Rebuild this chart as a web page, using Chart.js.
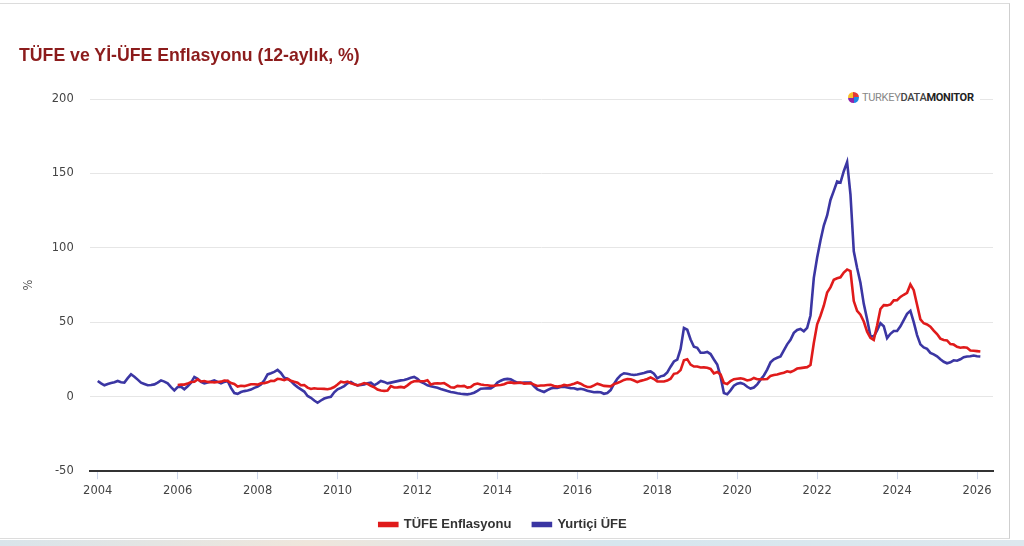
<!DOCTYPE html>
<html lang="tr">
<head>
<meta charset="utf-8">
<title>TÜFE ve Yİ-ÜFE Enflasyonu</title>
<script src="https://cdn.jsdelivr.net/npm/chart.js@4.4.1/dist/chart.umd.min.js"></script>
<style>
  html, body { margin: 0; padding: 0; background: #fff; }
  body { width: 1024px; height: 546px; position: relative; overflow: hidden; }
  #frame {
    position: absolute; left: 0; top: 3px; width: 1009px; height: 534px;
    border-top: 1px solid #dcdcdc; border-right: 1px solid #cfcfcf; border-bottom: 1px solid #dcdcdc;
  }
  #band {
    position: absolute; left: 0; top: 540px; width: 1024px; height: 6px;
    background: linear-gradient(to right, #d9e4ea, #efe6dc 30%, #d6e6ee 60%, #dde8ee);
  }
  #title {
    position: absolute; left: 19px; top: 45px; margin: 0;
    font: bold 17.7px "Liberation Sans", Arial, sans-serif; color: #8c1c1c;
  }
  #wrap { position: absolute; left: 0; top: 0; width: 1010px; height: 550px; }
  #brand {
    position: absolute; left: 842px; top: 89px; padding: 0 6px; background: #fff;
    font: 11px Roboto, sans-serif; color: #888; letter-spacing: -0.3px;
    display: flex; align-items: center; height: 16px;
  }
  #brand .dot {
    width: 11px; height: 11px; border-radius: 50%; margin-right: 3px;
    background: conic-gradient(#e53935 0 25%, #1e88e5 0 50%, #8e24aa 0 75%, #fbc02d 0);
  }
  #brand b { font-weight: 700; color: #222; }
  #brand span.m { font-weight: 500; color: #444; }
</style>
</head>
<body>
<div id="frame"></div>
<div id="band"></div>
<div id="wrap"><canvas id="chartEnf"></canvas></div>
<h1 id="title">TÜFE ve Yİ-ÜFE Enflasyonu (12-aylık, %)</h1>
<div id="brand"><div class="dot"></div>TURKEY<span class="m">DATA</span><b>MONITOR</b></div>
<script>
// aylık veriler, 12 aylık % değişim
const tufeStart = 2006; // Ocak 2006'dan itibaren
const tufeData = [
  7.93, 8.15, 8.16, 8.83, 9.86, 10.12, 11.69, 10.26, 10.55, 9.98, 9.86, 9.65,
  9.93, 10.16, 10.86, 10.72, 9.23, 8.60, 6.90, 7.39, 7.12, 7.70, 8.40, 8.39,
  8.17, 9.10, 9.15, 9.66, 10.74, 10.61, 12.06, 11.77, 11.13, 11.99, 10.76, 10.06,
  9.50, 7.73, 7.89, 6.13, 5.24, 5.73, 5.39, 5.33, 5.27, 5.08, 5.53, 6.53,
  8.19, 10.13, 9.56, 10.19, 9.10, 8.37, 7.58, 8.33, 9.24, 8.62, 7.29, 6.40,
  4.90, 4.16, 3.99, 4.26, 7.17, 6.24, 6.31, 6.65, 6.15, 7.66, 9.48, 10.45,
  10.61, 10.43, 10.43, 11.14, 8.28, 8.87, 9.07, 8.88, 9.19, 7.80, 6.37, 6.16,
  7.31, 7.03, 7.29, 6.13, 6.51, 8.30, 8.88, 8.17, 7.88, 7.71, 7.32, 7.40,
  7.75, 7.89, 8.39, 9.38, 9.66, 9.16, 9.32, 9.54, 8.86, 8.96, 9.15, 8.17,
  7.24, 7.55, 7.61, 7.91, 8.09, 7.20, 6.81, 7.14, 7.95, 7.58, 8.10, 8.81,
  9.58, 8.78, 7.46, 6.57, 6.58, 7.64, 8.79, 8.05, 7.28, 7.16, 7.00, 8.53,
  9.22, 10.13, 11.29, 11.87, 11.72, 10.90, 9.79, 10.68, 11.20, 11.90, 12.98, 11.92,
  10.35, 10.26, 10.23, 10.85, 12.15, 15.39, 15.85, 17.90, 24.52, 25.24, 21.62, 20.30,
  20.35, 19.67, 19.71, 19.50, 18.71, 15.72, 16.65, 15.01, 9.26, 8.55, 10.56, 11.84,
  12.15, 12.37, 11.86, 10.94, 11.39, 12.62, 11.76, 11.77, 11.75, 11.89, 14.03, 14.60,
  14.97, 15.61, 16.19, 17.14, 16.59, 17.53, 18.95, 19.25, 19.58, 19.89, 21.31, 36.08,
  48.69, 54.44, 61.14, 69.97, 73.50, 78.62, 79.60, 80.21, 83.45, 85.51, 84.39, 64.27,
  57.68, 55.18, 50.51, 43.68, 39.59, 38.21, 47.83, 58.94, 61.53, 61.36, 61.98, 64.77,
  64.86, 67.07, 68.50, 69.80, 75.45, 71.60, 61.78, 51.97, 49.38, 48.58, 47.09, 44.38,
  42.12, 39.05, 38.10, 37.86, 35.41, 35.05, 33.52, 32.95, 33.29, 32.87, 31.07, 30.89,
  30.65, 30.40
];

const ufeStart = 2004; // Ocak 2004'ten itibaren
const ufeData = [
  10.6, 9.0, 7.7, 8.6, 9.3, 9.8, 10.6, 9.8, 9.5, 12.5, 15.1, 13.5,
  11.5, 9.5, 8.6, 7.7, 7.9, 8.3, 9.5, 11.0, 10.2, 9.0, 6.5, 4.3,
  6.5, 6.8, 5.0, 7.0, 9.5, 13.3, 12.0, 10.0, 9.0, 9.5, 10.2, 11.0,
  10.0, 9.0, 10.0, 10.6, 6.0, 2.5, 2.0, 3.2, 3.8, 4.2, 4.8, 6.0,
  6.8, 8.3, 11.0, 15.0, 15.8, 16.7, 18.0, 16.0, 12.8, 12.2, 10.5, 8.3,
  6.5, 5.0, 3.5, 0.5, -0.7, -2.5, -4.0, -2.5, -1.2, -0.5, 0.0, 3.0,
  5.0, 6.0, 7.2, 9.0, 10.0, 8.5, 7.7, 8.0, 8.3, 9.0, 9.5, 7.7,
  9.0, 10.6, 10.0, 9.0, 9.5, 10.0, 10.5, 11.0, 11.3, 12.0, 12.8, 13.3,
  12.0, 10.0, 9.0, 7.7, 7.0, 6.5, 6.0, 5.2, 4.5, 3.8, 3.2, 2.8,
  2.3, 2.0, 1.8, 1.6, 2.0, 2.7, 4.0, 5.4, 5.5, 5.6, 5.6, 7.0,
  9.5, 10.8, 11.7, 12.0, 11.7, 10.5, 9.5, 9.3, 9.6, 9.5, 9.5, 7.0,
  5.0, 4.0, 3.2, 4.5, 5.5, 6.0, 6.0, 6.5, 6.8, 6.2, 5.8, 5.7,
  5.0, 5.4, 4.8, 4.0, 3.5, 3.0, 3.2, 3.0, 2.0, 2.5, 4.5, 8.6,
  12.0, 14.5, 15.8, 15.5, 15.0, 14.6, 15.0, 15.5, 16.0, 16.7, 17.0, 15.5,
  12.4, 13.7, 14.3, 16.4, 20.2, 23.7, 25.0, 32.1, 46.2, 45.0, 38.5, 33.6,
  32.9, 29.6, 29.6, 30.1, 28.7, 25.0, 21.7, 13.5, 2.5, 1.7, 4.3, 7.4,
  8.8, 9.3, 8.5, 6.7, 5.5, 6.2, 8.3, 11.5, 14.3, 18.2, 23.1, 25.2,
  26.2, 27.1, 31.2, 35.2, 38.3, 42.9, 44.9, 45.5, 44.0, 46.3, 54.6, 79.9,
  93.5, 105.0, 115.0, 121.8, 132.2, 138.3, 144.6, 143.8, 151.5, 157.7, 136.0, 97.7,
  86.5, 76.6, 62.4, 52.1, 40.8, 40.4, 44.5, 49.4, 47.4, 39.4, 42.3, 44.2,
  44.2, 47.3, 51.5, 55.7, 57.7, 50.1, 41.4, 35.2, 33.1, 32.2, 29.5, 28.5,
  27.2, 25.2, 23.5, 22.5, 23.1, 24.5, 24.2, 25.2, 26.6, 27.0, 27.2, 27.7,
  27.2, 27.0
];

const yearTicks = [2004, 2006, 2008, 2010, 2012, 2014, 2016, 2018, 2020, 2022, 2024, 2026];
const yTicks = [-50, 0, 50, 100, 150, 200];

// ay sırasını yıl cinsinden x değerine çevir
const toPoints = (start, arr) => arr.map((v, i) => ({ x: start + i / 12, y: v }));

document.addEventListener("DOMContentLoaded", () => {
  const ctx = document.getElementById("chartEnf");
  new Chart(ctx, {
    type: "line",
    data: {
      datasets: [
        {
          label: "TÜFE Enflasyonu",
          data: toPoints(tufeStart, tufeData),
          borderColor: "#e01b1b",
          backgroundColor: "#e01b1b",
          borderWidth: 2.6,
        },
        {
          label: "Yurtiçi ÜFE",
          data: toPoints(ufeStart, ufeData),
          borderColor: "#3b36a3",
          backgroundColor: "#3b36a3",
          borderWidth: 2.6,
        },
      ],
    },
    options: {
      responsive: true,
      maintainAspectRatio: false,
      animation: false,
      elements: { point: { radius: 0, hoverRadius: 0 }, line: { tension: 0 } },
      layout: { padding: { left: 13, right: 17, top: 99, bottom: 9 } },
      plugins: {
        tooltip: { enabled: false },
        legend: {
          position: "bottom",
          labels: {
            boxWidth: 18,
            boxHeight: 3,
            padding: 15,
            color: "#333",
            font: { family: "Liberation Sans", size: 13, weight: "bold" },
            // öğeler arası boşluk biraz daha geniş olsun
            generateLabels: (chart) => {
              const items = Chart.defaults.plugins.legend.labels.generateLabels(chart);
              items[0].text += "\u2002";
              return items;
            },
          },
        },
      },
      scales: {
        x: {
          type: "linear",
          min: 2003.8,
          max: 2026.4,
          afterBuildTicks: (axis) => { axis.ticks = yearTicks.map((v) => ({ value: v })); },
          grid: { drawOnChartArea: false, drawTicks: true, tickLength: 8, color: "#ccd6eb" },
          border: { display: true, color: "#333", width: 2 },
          ticks: {
            autoSkip: false,
            maxRotation: 0,
            padding: 5,
            color: "#444",
            font: { family: "DejaVu Sans", size: 11.5 },
            callback: (v) => String(v),
          },
        },
        y: {
          min: -50,
          max: 200,
          afterBuildTicks: (axis) => { axis.ticks = yTicks.map((v) => ({ value: v })); },
          grid: { color: "#e6e6e6", drawTicks: false },
          border: { display: false },
          ticks: { padding: 16, color: "#444", font: { family: "DejaVu Sans", size: 11.5 } },
          title: { display: true, text: "%", color: "#555", font: { family: "DejaVu Sans", size: 11.5 }, padding: { top: 9, bottom: 0 } },
        },
      },
    },
  });
});
</script>
</body>
</html>
